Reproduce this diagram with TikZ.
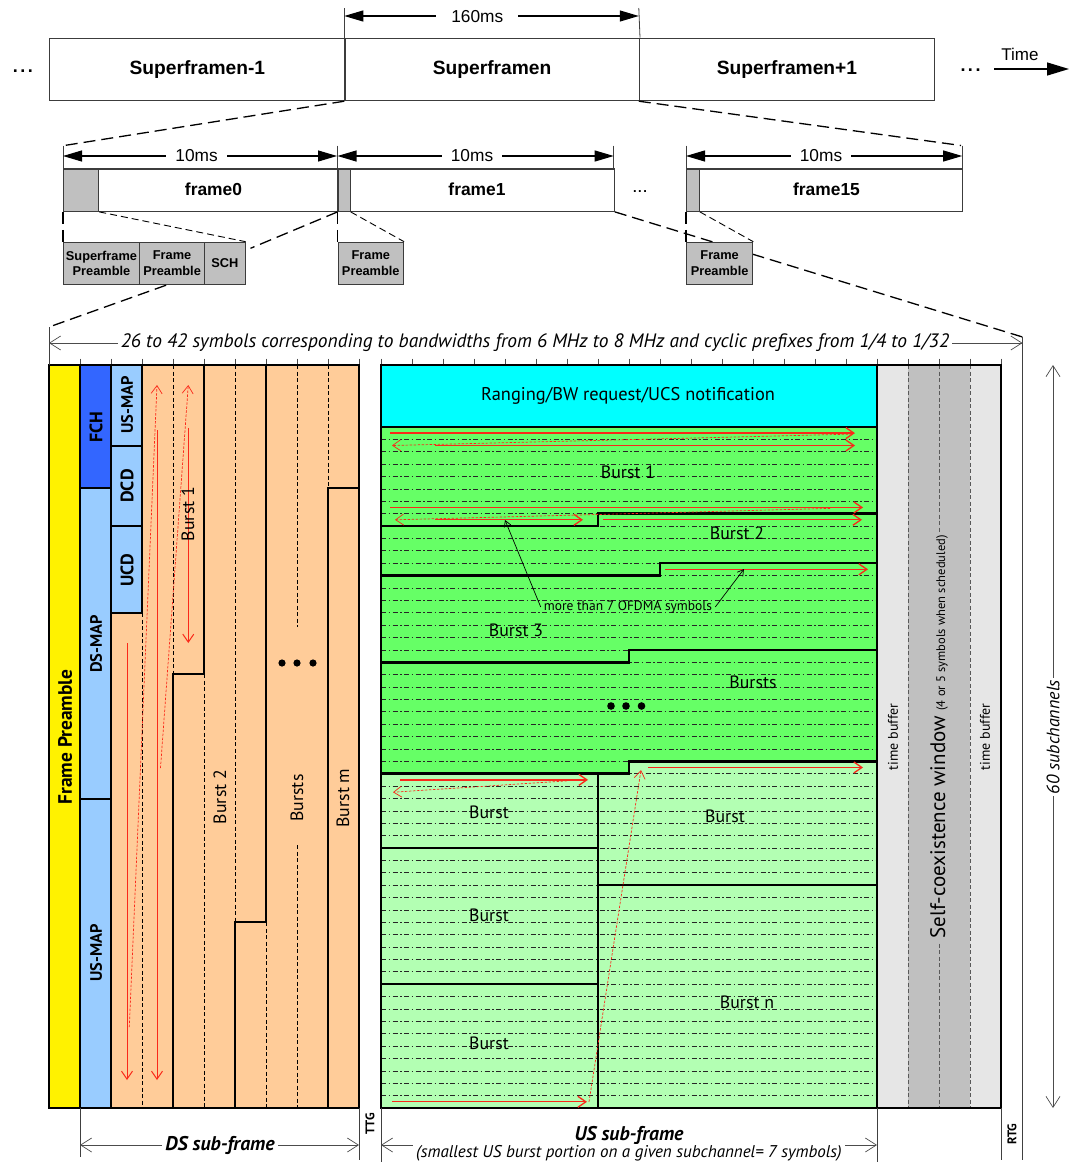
\documentclass[tikz,border=0pt]{standalone}
\usepackage{fontspec}
\setmainfont{Liberation Sans}
\newfontfamily\lowfont{PT Sans}
\usetikzlibrary{arrows.meta}

\definecolor{dsorange}{RGB}{255,204,153}
\definecolor{fchblue}{RGB}{51,102,255}
\definecolor{mapblue}{RGB}{153,204,255}
\definecolor{rngcyan}{RGB}{0,255,255}
\definecolor{usgreen}{RGB}{102,255,102}
\definecolor{uslight}{RGB}{179,255,179}
\definecolor{buflight}{RGB}{230,230,230}
\definecolor{bufmid}{RGB}{192,192,192}
\definecolor{hdrgray}{RGB}{192,192,192}
\definecolor{allocred}{RGB}{250,40,25}
\definecolor{edgegray}{RGB}{60,60,60}

\newcommand\fsz[1]{\fontsize{#1}{#1}\selectfont}
% y position of subchannel row boundary k (60 rows between y=365 and y=1108)
\newcommand\RY[1]{365+#1*12.38333}

\begin{document}
\begin{tikzpicture}[x=1pt,y=-1pt,
  topbox/.style={draw=edgegray, line width=1.2pt, inner sep=0pt, anchor=north west},
  sfbox/.style={topbox, minimum height=62.3pt, font=\fsz{19.2}\bfseries},
  frbox/.style={topbox, minimum height=42.4pt},
  subbox/.style={topbox, fill=hdrgray, minimum height=42.3pt, align=center, font=\fontsize{12.8}{15.7}\selectfont\bfseries},
  longdash/.style={draw=black, line width=1.3pt, dash pattern=on 12pt off 6pt},
  shortdash/.style={draw=black, line width=0.9pt, dash pattern=on 7pt off 4pt},
  dimtri/.style={line width=1.1pt, {Triangle[length=19pt,width=11pt]}-{Triangle[length=19pt,width=11pt]}},
  dimopen/.style={draw=black!70, line width=0.7pt, {Straight Barb[length=11pt,width=14pt]}-{Straight Barb[length=11pt,width=14pt]}},
  guide/.style={draw=black!75, line width=0.8pt},
  thk/.style={line width=2.6pt, line join=miter, line cap=rect},
  dsdash/.style={draw=black, line width=0.8pt, dash pattern=on 4pt off 2.5pt},
  gridline/.style={draw=black!85, line width=0.6pt, dash pattern=on 5pt off 2.5pt on 1.5pt off 2.5pt},
  bufdash/.style={draw=black!65, line width=0.8pt, dash pattern=on 4pt off 2.5pt},
  tickmark/.style={draw=black!70, line width=0.8pt},
  redsolid/.style={draw=allocred, line width=1.3pt, -{Straight Barb[length=8pt,width=11pt]}},
  reddash/.style={draw=allocred, line width=0.7pt, dash pattern=on 2.5pt off 1.5pt, -{Straight Barb[length=8pt,width=11pt]}},
  note/.style={draw=black, line width=0.7pt, -{Straight Barb[length=6pt,width=7pt]}},
  lbl/.style={font=\lowfont\fsz{17.8}, inner sep=0pt},
  vlbl/.style={lbl, rotate=90},
  blbl/.style={font=\lowfont\bfseries\fsz{18}, rotate=90, inner sep=0pt},
  mlbl/.style={font=\lowfont\bfseries\fsz{16.5}, rotate=90, inner sep=0pt},
  msnum/.style={fill=white, font=\fsz{17.3}, inner ysep=1pt}
]
\fill[white] (0,0) rectangle (1070,1162);
\useasboundingbox (0,0) rectangle (1070,1162);

% ---------------- superframes ----------------
\node[sfbox, minimum width=295.1pt] (sfA) at (49.2,37.7) {Superframen-1};
\node[sfbox, minimum width=294.5pt] (sfB) at (344.3,37.7) {Superframen};
\node[sfbox, minimum width=295.1pt] (sfC) at (638.8,37.7) {Superframen+1};
\node[font=\fsz{18}\bfseries, anchor=base] (dotsL) at (23,72) {.\kern2.5pt.\kern2.5pt.};
\node[font=\fsz{18}\bfseries, anchor=base] (dotsR) at (970.5,71) {.\kern2.5pt.\kern2.5pt.};
\node[font=\fsz{17}] (timeL) at (1020,54) {Time};
\coordinate (timeA) at (994.2,69);
\coordinate (timeB) at (1069,69);
\draw[line width=1.3pt, -{Triangle[length=22pt,width=13pt]}] (timeA) -- (timeB);

% 160 ms dimension
\coordinate (m160L) at (344.3,8);
\coordinate (m160R) at (638.8,8);
\draw[guide] (m160L) -- (sfB.north west);
\draw[guide] (m160R) -- (sfB.north east);
\coordinate (a160L) at (344.3,16);
\coordinate (a160R) at (638.8,16);
\draw[dimtri] (a160L) -- (a160R);
\node[msnum, inner xsep=15pt] (t160) at (477.3,17) {160ms};

% ---------------- frames ----------------
\node[frbox, minimum width=273.8pt] (f0) at (63,168.3) {};
\node[frbox, minimum width=276.2pt] (f1) at (337.5,168.3) {};
\node[frbox, minimum width=276.2pt] (f15) at (686,168.3) {};
\node[frbox, fill=hdrgray, minimum width=35.1pt] (g0) at (63,168.3) {};
\node[frbox, fill=hdrgray, minimum width=12pt] (g1) at (337.5,168.3) {};
\node[frbox, fill=hdrgray, minimum width=12.7pt] (g15) at (686,168.3) {};
\node[font=\fsz{17.4}\bfseries] (f0l) at (213.5,189.5) {frame0};
\node[font=\fsz{17.4}\bfseries] (f1l) at (477,189.5) {frame1};
\node[font=\fsz{17.4}\bfseries] (f15l) at (826.5,189.5) {frame15};
\node[font=\fsz{13}\bfseries, anchor=base] (dotsM) at (640,192) {.\kern1.5pt.\kern1.5pt.};

% 10 ms dimensions
\foreach \x in {63,337.2,613.7,686,962.2} \draw[guide] (\x,145.7) -- (\x,168.3);
\coordinate (d0a) at (63,156);    \coordinate (d0b) at (337,156);
\coordinate (d1a) at (337.5,156); \coordinate (d1b) at (613.7,156);
\coordinate (d2a) at (686,156);   \coordinate (d2b) at (962.2,156);
\draw[dimtri] (d0a) -- (d0b);
\draw[dimtri] (d1a) -- (d1b);
\draw[dimtri] (d2a) -- (d2b);
\node[msnum, inner xsep=9pt] (t10a) at (196.6,156) {10ms};
\node[msnum, inner xsep=9pt] (t10b) at (472,156) {10ms};
\node[msnum, inner xsep=9pt] (t10c) at (821,156) {10ms};

% zoom lines from superframe n to its frames
\coordinate (f0top) at (63,145.7);
\coordinate (f15top) at (961,145.5);
\draw[longdash] (sfB.south west) -- (f0top);
\draw[longdash] (sfC.south west) -- (f15top);

% zoom line from frame1 down to the full frame structure
\coordinate (bigR) at (1022.5,337);
\coordinate (bigL) at (49,327);
\draw[longdash] (f1.south east) -- (bigR);

% ---------------- preamble boxes ----------------
\node[subbox, minimum width=75.8pt] (sp0) at (63,241.7) {Superframe\\Preamble};
\node[subbox, minimum width=65.4pt] (fp0) at (138.8,241.7) {Frame\\Preamble};
\node[subbox, minimum width=40.3pt] (sch0) at (204.2,241.7) {SCH};
\node[subbox, minimum width=65.4pt] (fp1) at (337.5,241.7) {Frame\\Preamble};
\node[subbox, minimum width=66.1pt] (fp15) at (686,241.7) {Frame\\Preamble};

\coordinate (schEnd) at (250.5,248.3);
\draw[shortdash] (g0.south east) -- (sch0.north east);
\draw[longdash] (f1.south west) -- (schEnd);
\draw[shortdash] (g1.south east) -- (fp1.north east);
\draw[shortdash] (g15.south east) -- (fp15.north east);
\draw[longdash] (f0.south west) -- (sp0.north west);
\draw[longdash] (f1.south west) -- (fp1.north west);
\draw[longdash] (f15.south west) -- (fp15.north west);
\draw[longdash] ([xshift=-6pt]fp0.south) -- (bigL);

% ---------------- frame structure: fills ----------------
\fill[yellow] (49,365) rectangle (80,1108);
\fill[fchblue] (80,365) rectangle (111,488);
\fill[mapblue] (80,488) rectangle (111,1108);
\fill[dsorange] (111,365) rectangle (359,1108);
\fill[mapblue] (111,365) rectangle (142,613);
\fill[rngcyan] (381,365) rectangle (877,427);
\fill[usgreen] (381,427) -- (877,427) -- (877,{\RY{32}}) -- (629,{\RY{32}}) -- (629,{\RY{33}}) -- (381,{\RY{33}}) -- cycle;
\fill[uslight] (381,{\RY{33}}) -- (629,{\RY{33}}) -- (629,{\RY{32}}) -- (877,{\RY{32}}) -- (877,1108) -- (381,1108) -- cycle;
\fill[buflight] (877,365) rectangle (908,1108);
\fill[bufmid] (908,365) rectangle (970,1108);
\fill[buflight] (970,365) rectangle (1001,1108);

% subchannel rows
\foreach \k in {6,...,59} \draw[gridline] (381,{\RY{\k}}) -- (877,{\RY{\k}});

% OFDMA symbol columns (DS)
\draw[dsdash] (142,613) -- (142,1108);
\draw[dsdash] (173,365) -- (173,674);
\draw[dsdash] (204,674) -- (204,1108);
\draw[dsdash] (235,365) -- (235,922);
\draw[dsdash] (266,922) -- (266,1108);
\draw[dsdash] (297,365) -- (297,627);
\draw[dsdash] (297,845) -- (297,1108);
\draw[dsdash] (328,365) -- (328,488);
\foreach \x in {908,939,970} \draw[bufdash] (\x,365) -- (\x,1108);

% symbol ticks
\foreach \i in {0,...,10} \draw[tickmark] ({49+31*\i},358.5) -- ({49+31*\i},365);
\foreach \i in {0,...,20} \draw[tickmark] ({381+31*\i},358.5) -- ({381+31*\i},365);

% ---------------- burst boundaries ----------------
\draw[thk] (49,365) rectangle (359,1108);
\draw[thk] (80,365) -- (80,1108);
\draw[thk] (111,365) -- (111,1108);
\draw[thk] (80,488) -- (111,488);
\draw[thk] (80,799) -- (111,799);
\draw[thk] (111,446) -- (142,446);
\draw[thk] (111,526) -- (142,526);
\draw[thk] (111,613) -- (142,613) -- (142,365);
\draw[thk] (204,365) -- (204,674) -- (173,674) -- (173,1108);
\draw[thk] (266,365) -- (266,922) -- (235,922) -- (235,1108);
\draw[thk] (359,488) -- (328,488) -- (328,1108);

\draw[thk] (381,365) rectangle (1001,1108);
\draw[thk] (381,427) -- (877,427);
\draw[thk] (877,365) -- (877,1108);
\draw[thk] (381,{\RY{13}}) -- (598,{\RY{13}}) -- (598,{\RY{12}}) -- (877,{\RY{12}});
\draw[thk] (381,{\RY{17}}) -- (660,{\RY{17}}) -- (660,{\RY{16}}) -- (877,{\RY{16}});
\draw[thk] (381,{\RY{24}}) -- (629,{\RY{24}}) -- (629,{\RY{23}}) -- (877,{\RY{23}});
\draw[thk] (381,{\RY{33}}) -- (629,{\RY{33}}) -- (629,{\RY{32}}) -- (877,{\RY{32}});
\draw[thk] (598,{\RY{33}}) -- (598,1108);
\draw[thk] (381,{\RY{39}}) -- (598,{\RY{39}});
\draw[thk] (381,{\RY{50}}) -- (598,{\RY{50}});
\draw[thk] (598,{\RY{42}}) -- (877,{\RY{42}});

% ---------------- guides and dimensions ----------------
\draw[guide] (bigL) -- (49,365);
\draw[guide] (bigR) -- (1022.5,1160);
\draw[guide] (80,1108) -- (80,1157);
\draw[guide] (359,1108) -- (359,1160);
\draw[guide] (381,1108) -- (381,1162);
\draw[guide] (877,1108) -- (877,1162);
\draw[guide] (1001,1108) -- (1001,1160);

\coordinate (bwA) at (49,343);
\coordinate (bwB) at (1022.5,343);
\draw[dimopen] (bwA) -- (bwB);
\node[fill=white, font=\lowfont\itshape\fsz{19.4}, inner xsep=3pt, inner ysep=1pt] (bwtxt) at (535,343)
  {26 to 42 symbols corresponding to bandwidths from 6 MHz to 8 MHz and cyclic prefixes from 1/4 to 1/32};

\coordinate (dsA) at (80,1145);
\coordinate (dsB) at (359,1145);
\draw[dimopen] (dsA) -- (dsB);
\node[fill=white, font=\lowfont\bfseries\itshape\fsz{19.8}, inner xsep=3pt, inner ysep=1pt] (dstxt) at (220,1145) {DS sub-frame};

\coordinate (usA) at (381,1145);
\coordinate (usB) at (877,1145);
\draw[dimopen] (usA) -- (usB);
\node[fill=white, font=\lowfont\bfseries\itshape\fsz{19.8}, inner xsep=3pt, inner ysep=0.5pt] (ustxt) at (629,1135.5) {US sub-frame};
\node[fill=white, font=\lowfont\itshape\fsz{17}, inner xsep=3pt, inner ysep=1.5pt] (usnote) at (629,1153)
  {(smallest US burst portion on a given subchannel= 7 symbols)};

\coordinate (scA) at (1053,365);
\coordinate (scB) at (1053,1108);
\draw[dimopen] (scA) -- (scB);
\node[fill=white, rotate=90, font=\lowfont\itshape\fsz{18}, inner xsep=2pt, inner ysep=0pt] (subch) at (1053,737) {60 subchannels};

\node[rotate=90, font=\lowfont\bfseries\fsz{12.5}] (ttg) at (370,1124) {TTG};
\node[rotate=90, font=\lowfont\bfseries\fsz{12.5}] (rtg) at (1012,1134) {RTG};

% ---------------- allocation order (red) ----------------
\draw[redsolid, line width=1pt] (127,643) -- (127,1080);
\draw[reddash] (129.3,1027) -- (157,385);
\draw[redsolid, line width=1pt] (157,430) -- (157,1080);
\draw[reddash] (160.5,768) -- (188.3,385);
\draw[redsolid, line width=1pt] (188.3,428) -- (188.3,643);

\draw[redsolid] (390,{\RY{5.5}}) -- (855,{\RY{5.5}});
\draw[reddash] (852,{\RY{5.5}+1}) -- (392,{\RY{6.5}});
\draw[redsolid] (435,{\RY{6.5}}) -- (855,{\RY{6.5}});
\draw[redsolid] (390,{\RY{11.5}}) -- (863,{\RY{11.5}});
\draw[reddash] (830,{\RY{11.5}+1}) -- (395,{\RY{12.5}});
\draw[redsolid] (435,{\RY{12.5}}) -- (583,{\RY{12.5}});
\draw[redsolid] (603,{\RY{12.5}}) -- (862,{\RY{12.5}});
\draw[redsolid] (665,{\RY{16.5}}) -- (868,{\RY{16.5}});
\draw[redsolid] (648,{\RY{32.5}}) -- (863,{\RY{32.5}});
\draw[redsolid] (400,{\RY{33.5}}) -- (588,{\RY{33.5}});
\draw[reddash] (567,{\RY{33.5}+1}) -- (393,{\RY{34.5}});
\draw[redsolid] (392,{\RY{59.5}}) -- (587,{\RY{59.5}});
\draw[reddash] (589,{\RY{59.5}}) -- (641,770);

% ---------------- labels ----------------
\node[blbl, font=\lowfont\bfseries\fsz{19.4}] (lfp) at (65,737) {Frame Preamble};
\node[blbl] (lfch) at (96,427) {FCH};
\node[mlbl] (ldsmap) at (96,644) {DS-MAP};
\node[mlbl] (lusmap) at (96,953) {US-MAP};
\node[mlbl] (lusmap2) at (127,405) {US-MAP};
\node[blbl] (ldcd) at (127,486) {DCD};
\node[blbl] (lucd) at (127,570) {UCD};
\node[vlbl] (dsb1) at (188,514) {Burst 1};
\node[vlbl] (dsb2) at (220,797) {Burst 2};
\node[vlbl] (dsbs) at (297,798) {Bursts};
\node[vlbl] (dsbm) at (343,798) {Burst m};
\foreach \x in {282,297,313} \fill (\x,663) circle (3.6);

\node[font=\lowfont\fsz{18.4}] (rng) at (628,396) {Ranging/BW request/UCS notification};
\node[lbl] (usb1) at (628,472) {Burst 1};
\node[lbl] (usb2) at (737,533) {Burst 2};
\node[lbl] (usb3) at (516,630) {Burst 3};
\node[lbl] (usbs) at (753,682) {Bursts};
\foreach \x in {611,626,641.5} \fill (\x,706) circle (3.8);
\node[lbl] (usb4) at (489,812) {Burst};
\node[lbl] (usb5) at (725,816) {Burst};
\node[lbl] (usb6) at (489,915) {Burst};
\node[lbl] (usbn) at (747,1002) {Burst n};
\node[lbl] (usb7) at (489,1043) {Burst};

\node[font=\lowfont\fsz{13.5}, inner sep=1pt] (ofdma) at (628,607) {more than 7 OFDMA symbols};
\coordinate (ofA) at (505,520);
\coordinate (ofB) at (744,569);
\draw[note] ([xshift=-2pt]ofdma.west) -- (ofA);
\draw[note] ([xshift=2pt]ofdma.east) -- (ofB);

\node[rotate=90, font=\lowfont\fsz{14}] (tb1) at (893,737) {time buffer};
\node[rotate=90, font=\lowfont\fsz{14}] (tb2) at (985,737) {time buffer};
\node[rotate=90, fill=bufmid, inner xsep=3pt, inner ysep=0pt, font=\lowfont] (scw) at (939,737)
  {\fsz{21}Self-coexistence window \fsz{12.5}(4 or 5 symbols when scheduled)};
\end{tikzpicture}
\end{document}
